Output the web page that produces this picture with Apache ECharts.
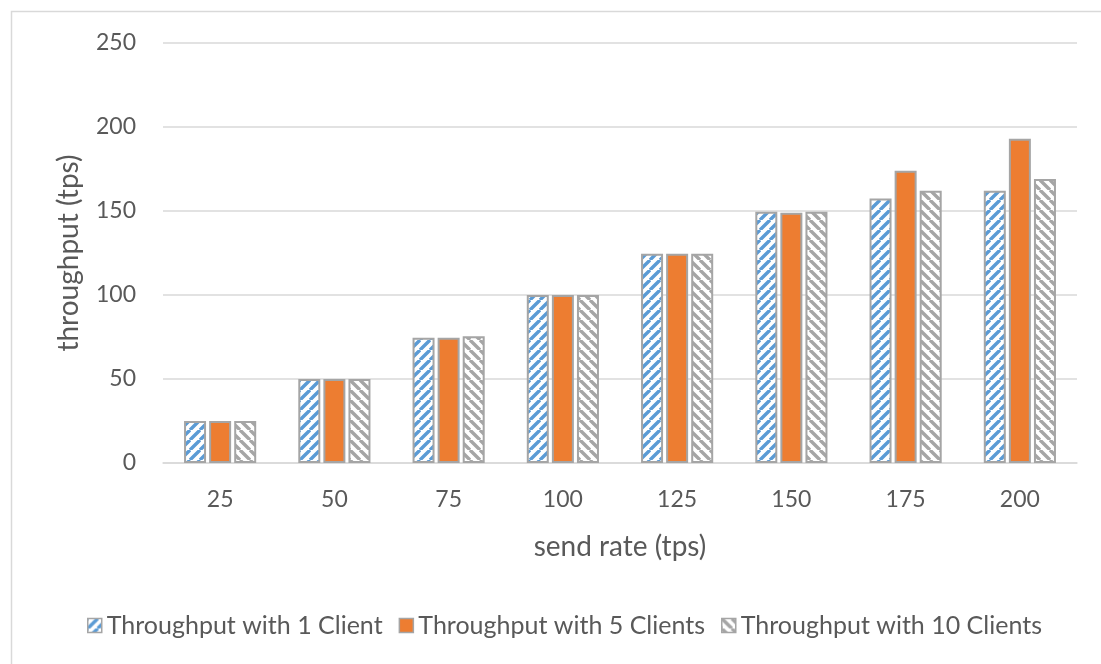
<!DOCTYPE html>
<html>
<head>
<meta charset="utf-8">
<script src="https://cdn.jsdelivr.net/npm/echarts@6/dist/echarts.min.js"></script>
<style>
  html, body { margin: 0; padding: 0; background: #fff; }
  #chart { width: 1101px; height: 664px; }
</style>
</head>
<body>
<div id="chart"></div>
<script>
// send rates on the x axis (tps)
const sendRates = ['25', '50', '75', '100', '125', '150', '175', '200'];
// measured throughput (tps) per client count
const oneClient = [25, 50, 74.5, 100, 124.5, 149.5, 157.5, 162];
const fiveClients = [25, 50, 74.5, 100, 124.5, 149, 174, 193];
const tenClients = [25, 50, 75.5, 100, 124.5, 149.5, 162, 169];
const seriesNames = ['Throughput with 1 Client', 'Throughput with 5 Clients', 'Throughput with 10 Clients'];

// diagonal hatch tile; dir = 1 for "/" stripes, -1 for "\" stripes
function hatch(color, dir, size, width) {
  const s = size;
  const c = document.createElement('canvas');
  c.width = s; c.height = s;
  const g = c.getContext('2d');
  g.fillStyle = '#ffffff';
  g.fillRect(0, 0, s, s);
  g.strokeStyle = color;
  g.lineWidth = width;
  g.beginPath();
  for (let k = -1; k <= 1; k++) {
    if (dir > 0) {
      g.moveTo(k * s, s); g.lineTo(k * s + s, 0);
    } else {
      g.moveTo(k * s, 0); g.lineTo(k * s + s, s);
    }
  }
  g.stroke();
  return c;
}

const textColor = '#595959';
const fontFamily = 'Lato, "Open Sans", sans-serif';
const edge = '#a5a5a5';

const chart = echarts.init(document.getElementById('chart'));
chart.setOption({
  animation: false,
  backgroundColor: '#ffffff',
  graphic: [{
    type: 'rect',
    left: 9, top: 9,
    shape: { width: 1110, height: 680 },
    style: { fill: 'none', stroke: '#d9d9d9', lineWidth: 1.5 },
    silent: true
  }],
  grid: { left: 163, right: 24, top: 43, bottom: 201 },
  legend: {
    bottom: 21,
    left: 82,
    icon: 'rect',
    itemWidth: 14,
    itemHeight: 14,
    itemGap: 16,
    itemStyle: { borderColor: edge, borderWidth: 1.5 },
    textStyle: { color: textColor, fontSize: 25, fontFamily: fontFamily },
    data: seriesNames
  },
  xAxis: {
    type: 'category',
    data: sendRates,
    name: 'send rate (tps)',
    nameLocation: 'middle',
    nameGap: 70,
    nameTextStyle: { color: textColor, fontSize: 28, fontFamily: fontFamily },
    axisLine: { lineStyle: { color: '#d9d9d9', width: 1.5 } },
    axisTick: { show: false },
    axisLabel: { color: textColor, fontSize: 23, fontFamily: fontFamily, margin: 25 }
  },
  yAxis: {
    type: 'value',
    min: 0, max: 250, interval: 50,
    name: 'throughput (tps)',
    nameLocation: 'middle',
    nameGap: 80,
    nameTextStyle: { color: textColor, fontSize: 28, fontFamily: fontFamily },
    axisLine: { show: false },
    axisTick: { show: false },
    axisLabel: { color: textColor, fontSize: 23, fontFamily: fontFamily, margin: 27 },
    splitLine: { lineStyle: { color: '#d9d9d9', width: 1.5 } }
  },
  series: [
    {
      name: seriesNames[0], type: 'bar', data: oneClient,
      barWidth: 22, barGap: '14%',
      itemStyle: { color: { image: hatch('#5b9bd5', 1, 10, 3.4), repeat: 'repeat' }, borderColor: edge, borderWidth: 2 }
    },
    {
      name: seriesNames[1], type: 'bar', data: fiveClients,
      barWidth: 22, barGap: '14%',
      itemStyle: { color: '#ed7d31', borderColor: edge, borderWidth: 2 }
    },
    {
      name: seriesNames[2], type: 'bar', data: tenClients,
      barWidth: 22, barGap: '14%',
      itemStyle: { color: { image: hatch('#a5a5a5', -1, 10, 3.4), repeat: 'repeat' }, borderColor: edge, borderWidth: 2 }
    }
  ]
});
</script>
</body>
</html>
